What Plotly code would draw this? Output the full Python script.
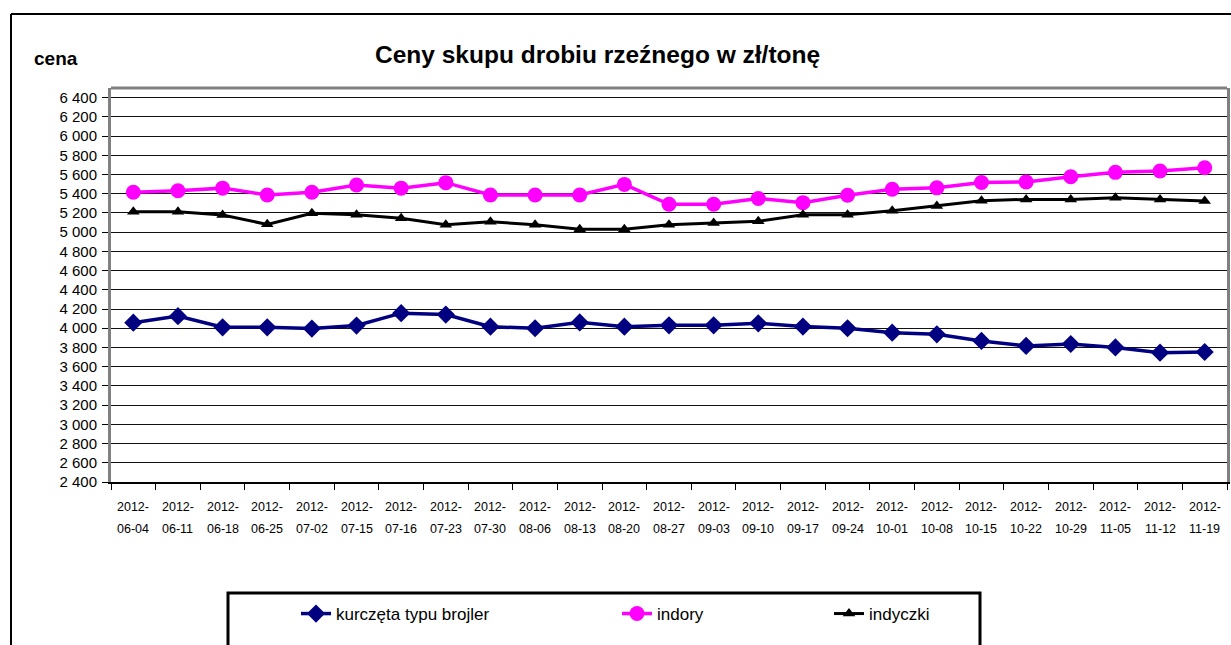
import plotly.graph_objects as go

categories = ['2012-06-04', '2012-06-11', '2012-06-18', '2012-06-25', '2012-07-02',
              '2012-07-15', '2012-07-16', '2012-07-23', '2012-07-30', '2012-08-06',
              '2012-08-13', '2012-08-20', '2012-08-27', '2012-09-03', '2012-09-10',
              '2012-09-17', '2012-09-24', '2012-10-01', '2012-10-08', '2012-10-15',
              '2012-10-22', '2012-10-29', '2012-11-05', '2012-11-12', '2012-11-19']

brojler = [4058, 4126, 4010, 4010, 3997, 4028, 4157, 4142, 4016, 4000,
           4061, 4016, 4030, 4030, 4051, 4017, 4000, 3954, 3937, 3868,
           3816, 3836, 3800, 3746, 3753]
indory = [5415, 5430, 5458, 5386, 5415, 5490, 5458, 5515, 5386, 5386,
          5386, 5497, 5290, 5290, 5350, 5307, 5384, 5447, 5461, 5517,
          5523, 5577, 5622, 5636, 5670]
indyczki = [5213, 5213, 5178, 5081, 5196, 5180, 5145, 5076, 5108, 5076,
            5030, 5030, 5076, 5094, 5113, 5180, 5180, 5223, 5273, 5327,
            5341, 5341, 5357, 5341, 5325]

series_names = ['kurczęta typu brojler', 'indory', 'indyczki']
title_text = 'Ceny skupu drobiu rzeźnego w zł/tonę'
y_title = 'cena'

FONT = 'Liberation Sans, Arial, sans-serif'
W, H = 1231, 645
L, R, T, B = 111, 4, 88, 163
PW, PH = W - L - R, H - T - B


def px_x(p):
    return (p - L) / PW


def px_y(p):
    return (H - B - p) / PH


fig = go.Figure()
fig.add_trace(go.Scatter(
    x=categories, y=brojler, name=series_names[0], mode='lines+markers',
    line=dict(color='#000080', width=3.5),
    marker=dict(symbol='diamond', size=14, color='#000080'),
    legend='legend'))
fig.add_trace(go.Scatter(
    x=categories, y=indory, name=series_names[1], mode='lines+markers',
    line=dict(color='#FF00FF', width=3.5),
    marker=dict(symbol='circle', size=15, color='#FF00FF'),
    legend='legend2'))
fig.add_trace(go.Scatter(
    x=categories, y=indyczki, name=series_names[2], mode='lines+markers',
    line=dict(color='#000000', width=3),
    marker=dict(symbol='triangle-up', size=11, color='#000000'),
    legend='legend3'))

annotations = []
for c in categories:
    y1, rest = c.split('-', 1)
    annotations.append(dict(x=c, xref='x', y=px_y(507), yref='paper', text=y1 + '-',
                            showarrow=False, xanchor='center', yanchor='middle',
                            font=dict(family=FONT, size=12.5, color='black')))
    annotations.append(dict(x=c, xref='x', y=px_y(529), yref='paper', text=rest,
                            showarrow=False, xanchor='center', yanchor='middle',
                            font=dict(family=FONT, size=12.5, color='black')))
annotations.append(dict(x=px_x(32), xref='paper', y=px_y(59), yref='paper', text='<b>' + y_title + '</b>',
                        showarrow=False, xanchor='left', yanchor='middle',
                        font=dict(family=FONT, size=19, color='black')))
annotations.append(dict(x=px_x(597), xref='paper', y=px_y(55), yref='paper', text='<b>' + title_text + '</b>',
                        showarrow=False, xanchor='center', yanchor='middle',
                        font=dict(family=FONT, size=24.5, color='black')))

shapes = [
    dict(type='line', xref='paper', yref='paper', x0=0, x1=1, y0=1, y1=1,
         line=dict(color='#808080', width=3)),
    dict(type='line', xref='paper', yref='paper', x0=px_x(11), x1=px_x(11), y0=px_y(14), y1=px_y(660),
         line=dict(color='black', width=2)),
    dict(type='line', xref='paper', yref='paper', x0=px_x(11), x1=px_x(1240), y0=px_y(14), y1=px_y(14),
         line=dict(color='black', width=2)),
    dict(type='rect', xref='paper', yref='paper', x0=px_x(228), x1=px_x(980), y0=px_y(593), y1=px_y(670),
         line=dict(color='black', width=3)),
]

leg_common = dict(orientation='h', bgcolor='rgba(0,0,0,0)', borderwidth=0,
                  font=dict(family=FONT, size=17, color='black'),
                  yanchor='middle', xanchor='left', y=px_y(614))

fig.update_layout(
    width=W, height=H,
    margin=dict(l=L, r=R, t=T, b=B, autoexpand=False),
    paper_bgcolor='white', plot_bgcolor='white',
    separators=', ',
    showlegend=True,
    legend=dict(x=px_x(296), **leg_common),
    legend2=dict(x=px_x(617), **leg_common),
    legend3=dict(x=px_x(829), **leg_common),
    annotations=annotations,
    shapes=shapes,
    xaxis=dict(type='category', range=[-0.5, len(categories) - 0.5],
               showgrid=False, showticklabels=False,
               ticks='outside', tickson='boundaries', ticklen=6, tickcolor='black',
               showline=True, linecolor='black', linewidth=2, zeroline=False),
    yaxis=dict(range=[2400, 6500], tick0=2400, dtick=200, tickformat=',d',
               showgrid=True, gridcolor='#111111', gridwidth=1,
               ticks='outside', ticklen=6, tickcolor='black',
               ticklabelstandoff=2,
               tickfont=dict(family=FONT, size=15, color='black'),
               showline=True, linecolor='#808080', linewidth=3, mirror=True,
               zeroline=False),
)

fig.write_html('out.html', config={'displayModeBar': False},
               post_script="document.body.style.margin='0';document.body.style.overflow='hidden';")
